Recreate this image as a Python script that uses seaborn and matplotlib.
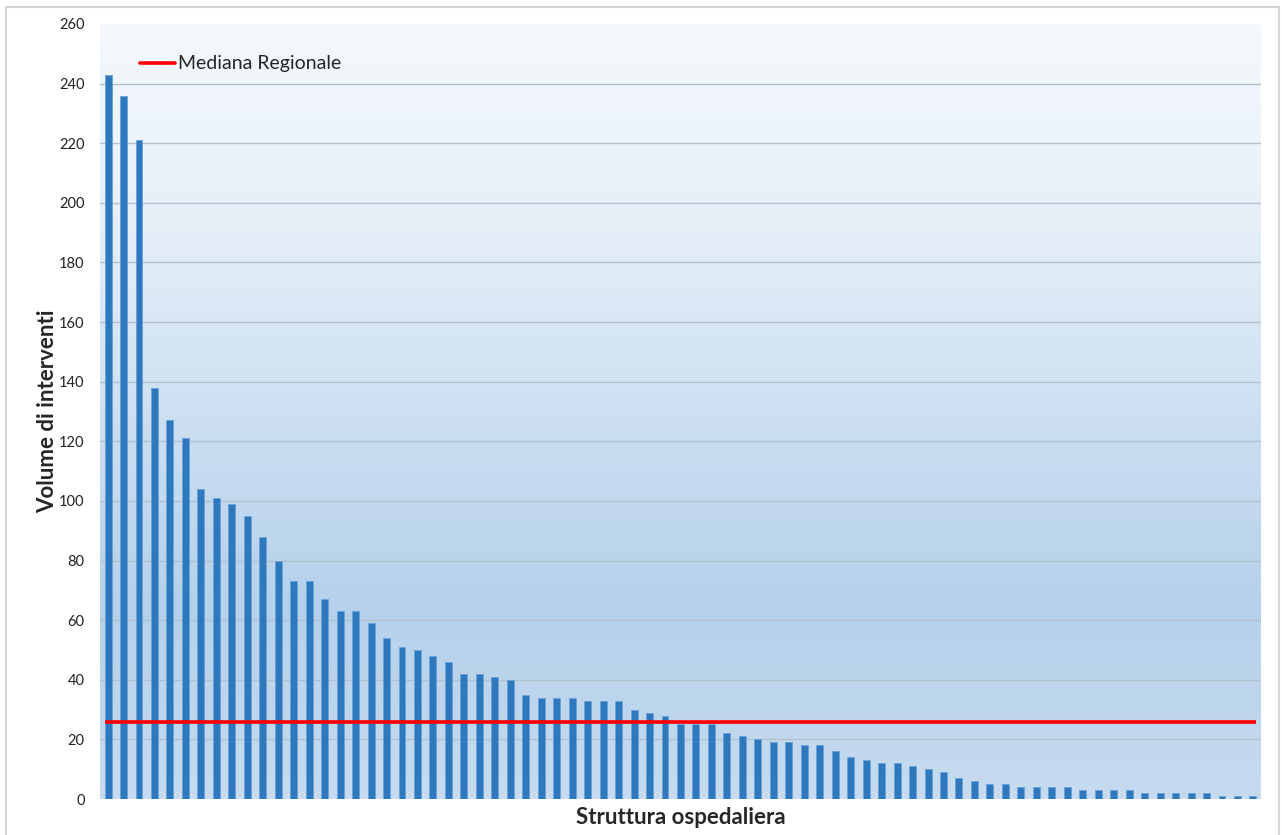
import numpy as np
import pandas as pd
import matplotlib.pyplot as plt
import seaborn as sns
from matplotlib.colors import LinearSegmentedColormap
from matplotlib.lines import Line2D
from matplotlib.patches import Rectangle

#%% data
volumi = [243, 236, 221, 138, 127, 121, 104, 101, 99, 95,
          88, 80, 73, 73, 67, 63, 63, 59, 54, 51,
          50, 48, 46, 42, 42, 41, 40, 35, 34, 34,
          34, 33, 33, 33, 30, 29, 28, 25, 25, 25,
          22, 21, 20, 19, 19, 18, 18, 16, 14, 13,
          12, 12, 11, 10, 9, 7, 6, 5, 5, 4,
          4, 4, 4, 3, 3, 3, 3, 2, 2, 2,
          2, 2, 1, 1, 1]
strutture = [f"S{i + 1}" for i in range(len(volumi))]
mediana = 26
y_ticks = list(range(0, 261, 20))

df = pd.DataFrame({"struttura": strutture, "volume": volumi})

#%% plot
sns.set_style("white")
plt.rcParams["font.family"] = ["Lato", "DejaVu Sans"]

fig = plt.figure(figsize=(12.82, 8.35), dpi=100)
ax = fig.add_axes([0.078, 0.0431, 0.9056, 0.9282])

# outer frame like the Excel chart area
fig.patches.append(Rectangle((6 / 1282, -0.05), 1273 / 1282, 1.05 - 7 / 835,
                             transform=fig.transFigure, fill=False,
                             edgecolor="#d6d6d6", lw=1.5, zorder=0))

# gradient background of plot area
grad = LinearSegmentedColormap.from_list(
    "bg", [(0.0, "#f5f9fd"), (0.25, "#e6eff8"), (0.75, "#b5d1eb"), (1.0, "#c6dbef")])
n = len(volumi)
ax.imshow(np.linspace(0, 1, 256).reshape(-1, 1), cmap=grad, aspect="auto",
          extent=(-0.52, n - 0.48, 0, 260), zorder=0, origin="upper")

for t in y_ticks[1:-1]:
    ax.axhline(t, color="#b3c1cf", lw=1, zorder=1)

sns.barplot(data=df, x="struttura", y="volume", color="#2e78bd", width=0.45,
            saturation=1, edgecolor="#6aa2d8", linewidth=0.6, ax=ax, zorder=2)

ax.hlines(mediana, -0.225, n - 0.775, color="#ff0000", lw=2.6, zorder=3)

ax.set_xlim(-0.52, n - 0.48)
ax.set_ylim(0, 260)
ax.set_yticks(y_ticks)
ax.tick_params(axis="y", labelsize=10.5, length=0, pad=11, labelcolor="#222222")
ax.set_xticks([])
for s in ax.spines.values():
    s.set_visible(False)

ax.set_xlabel("Struttura ospedaliera", fontsize=16, fontweight="bold", labelpad=6)
ax.set_ylabel("Volume di interventi", fontsize=16, fontweight="bold", labelpad=1)

handle = [Line2D([], [], color="#ff0000", lw=2.6)]
ax.legend(handle, ["Mediana Regionale"], loc="upper left", bbox_to_anchor=(0.019, 0.982),
          frameon=False, fontsize=14, handlelength=1.8, handletextpad=0.2)

fig.savefig("out.png", dpi=100)
